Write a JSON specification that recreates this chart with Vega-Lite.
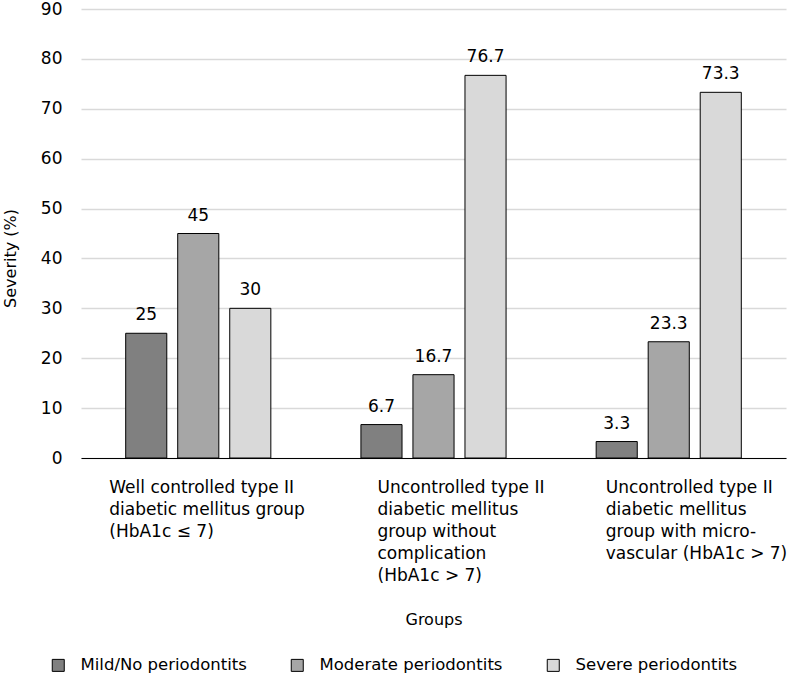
{
  "$schema": "https://vega.github.io/schema/vega-lite/v6.json",
  "width": 705,
  "height": 449,
  "autosize": {"type": "none"},
  "padding": {"left": 81, "top": 9, "right": 5, "bottom": 220},
  "background": "white",
  "config": {
    "font": "DejaVu Sans",
    "view": {"stroke": null},
    "axis": {"labelFont": "DejaVu Sans", "titleFont": "DejaVu Sans", "labelColor": "#000000", "titleColor": "#000000", "titleFontWeight": "normal"},
    "legend": {"labelFont": "DejaVu Sans", "labelColor": "#000000"}
  },
  "data": {
    "values": [
      {"group": "Well controlled type II|diabetic mellitus group|(HbA1c ≤ 7)", "series": "Mild/No periodontits", "value": 25},
      {"group": "Well controlled type II|diabetic mellitus group|(HbA1c ≤ 7)", "series": "Moderate periodontits", "value": 45},
      {"group": "Well controlled type II|diabetic mellitus group|(HbA1c ≤ 7)", "series": "Severe periodontits", "value": 30},
      {"group": "Uncontrolled type II|diabetic mellitus|group without|complication|(HbA1c > 7)", "series": "Mild/No periodontits", "value": 6.7},
      {"group": "Uncontrolled type II|diabetic mellitus|group without|complication|(HbA1c > 7)", "series": "Moderate periodontits", "value": 16.7},
      {"group": "Uncontrolled type II|diabetic mellitus|group without|complication|(HbA1c > 7)", "series": "Severe periodontits", "value": 76.7},
      {"group": "Uncontrolled type II|diabetic mellitus|group with micro-|vascular (HbA1c > 7)", "series": "Mild/No periodontits", "value": 3.3},
      {"group": "Uncontrolled type II|diabetic mellitus|group with micro-|vascular (HbA1c > 7)", "series": "Moderate periodontits", "value": 23.3},
      {"group": "Uncontrolled type II|diabetic mellitus|group with micro-|vascular (HbA1c > 7)", "series": "Severe periodontits", "value": 73.3}
    ]
  },
  "encoding": {
    "x": {
      "field": "group",
      "type": "nominal",
      "sort": null,
      "scale": {"paddingInner": 0.383, "paddingOuter": 0.19},
      "axis": {
        "title": "Groups",
        "titleFontSize": 16,
        "titlePadding": 28,
        "labelAngle": 0,
        "labelExpr": "split(datum.label, '|')",
        "labelAlign": "left",
        "labelBaseline": "top",
        "labelFontSize": 17,
        "labelLineHeight": 22,
        "labelPadding": 21,
        "labelLimit": 300,
        "labelOffset": {"condition": [{"test": "indexof(datum.value, 'Well') == 0", "value": -89}, {"test": "indexof(datum.value, 'without') >= 0", "value": -56}], "value": -63},
        "ticks": false,
        "domainColor": "#000000",
        "domainWidth": 1,
        "grid": false
      }
    },
    "xOffset": {"field": "series", "type": "nominal", "scale": {"paddingInner": 0.21, "paddingOuter": 0}},
    "y": {
      "field": "value",
      "type": "quantitative",
      "scale": {"domain": [0, 90], "nice": false},
      "axis": {
        "title": "Severity (%)",
        "titleFontSize": 16,
        "labelFontSize": 17,
        "labelPadding": 19,
        "values": [0, 10, 20, 30, 40, 50, 60, 70, 80, 90],
        "domain": false,
        "ticks": false,
        "gridColor": "#d9d9d9",
        "gridWidth": 1.5,
        "titleX": -63,
        "titleY": 249
      }
    }
  },
  "layer": [
    {
      "mark": {"type": "bar", "stroke": "#000000", "strokeWidth": 1},
      "encoding": {
        "color": {
          "field": "series",
          "type": "nominal",
          "scale": {"domain": ["Mild/No periodontits", "Moderate periodontits", "Severe periodontits"], "range": ["#808080", "#a6a6a6", "#d9d9d9"]},
          "legend": {
            "title": null,
            "orient": "none",
            "direction": "horizontal",
            "legendX": -31,
            "legendY": 648,
            "symbolType": "square",
            "symbolSize": 144,
            "symbolStrokeColor": "#000000",
            "symbolStrokeWidth": 1,
            "labelFontSize": 16.5,
            "labelLimit": 300,
            "labelOffset": 14,
            "columnPadding": 42
          }
        }
      }
    },
    {
      "mark": {"type": "text", "baseline": "alphabetic", "dy": -13, "fontSize": 17, "color": "#000000"},
      "encoding": {
        "text": {"field": "value", "type": "quantitative"}
      }
    }
  ]
}
